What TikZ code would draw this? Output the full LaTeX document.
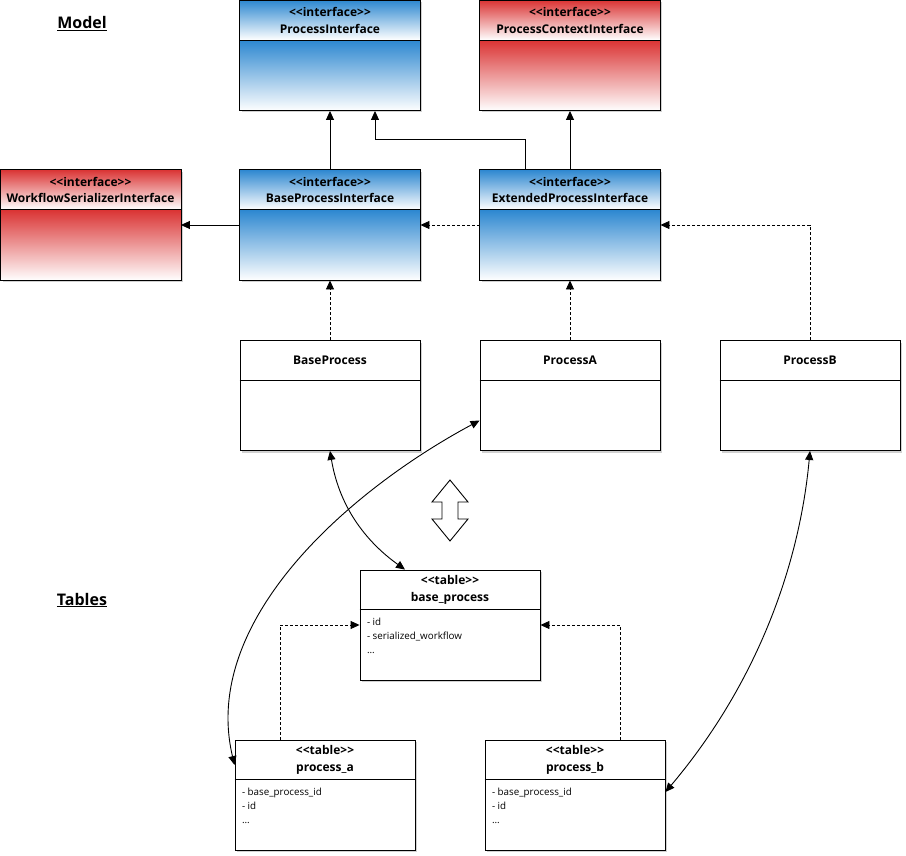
\documentclass[tikz,border=0pt]{standalone}
\usepackage{fontspec}
\setmainfont{Open Sans}
\usepackage{xcolor}
\usetikzlibrary{calc,arrows.meta,positioning,shadows}
\definecolor{umlblue}{HTML}{2C87D0}
\definecolor{umlred}{HTML}{DA3333}
% shade header and body of a class box, then redraw its frame and divider
\newcommand{\umlshade}[2]{%
  \shade[top color=#2, bottom color=white] (#1.north west) rectangle ($(#1.north east)+(0,40)$);
  \shade[top color=#2, bottom color=white] ($(#1.north west)+(0,40)$) rectangle (#1.south east);
  \draw (#1.north west) rectangle (#1.south east);
  \draw ($(#1.north west)+(0,40)$) -- ($(#1.north east)+(0,40)$);
}
\newcommand{\umlsplit}[1]{\draw ($(#1.north west)+(0,40)$) -- ($(#1.north east)+(0,40)$);}

\begin{document}
\begin{tikzpicture}[x=1pt, y=-1pt, line width=0.9pt,
  cls/.style={draw, fill=white, minimum width=180pt, minimum height=110pt, inner sep=0pt,
    drop shadow={shadow xshift=2pt, shadow yshift=-2pt, fill=black!40, opacity=0.45}},
  hdr/.style={font=\bfseries\fontsize{12}{16.5}\selectfont, align=center, inner sep=0pt},
  attr/.style={font=\fontsize{9.8}{14}\selectfont, align=left, inner sep=0pt, anchor=north west},
  lbl/.style={font=\bfseries\fontsize{16}{18}\selectfont, inner sep=0pt},
  arr/.style={-{Triangle[length=9pt,width=8pt]}},
  dep/.style={arr, dash pattern=on 3pt off 2pt},
  both/.style={{Triangle[length=9pt,width=8pt]}-{Triangle[length=9pt,width=8pt]}}
]
  \useasboundingbox (0,0) rectangle (906,856);

  \node[lbl] (model) at (82,24) {\underline{Model}};
  \node[lbl] (tables) at (82,600) {\underline{Tables}};

  % Model
  \node[cls] (pi) at (330,55.5) {};  \umlshade{pi}{umlblue}
  \node[cls] (pci) at (570,55.5) {}; \umlshade{pci}{umlred}
  \node[cls] (wsi) at (90.5,225) {}; \umlshade{wsi}{umlred}
  \node[cls] (bpi) at (330,225) {};  \umlshade{bpi}{umlblue}
  \node[cls] (epi) at (570,225) {};  \umlshade{epi}{umlblue}
  \node[cls] (bp) at (330,395.5) {}; \umlsplit{bp}
  \node[cls] (pa) at (570,395.5) {}; \umlsplit{pa}
  \node[cls] (pb) at (810,395.5) {}; \umlsplit{pb}

  \node[hdr] (pi-t) at ($(pi.north)+(0,20.5)$) {<{}<interface>{}>\\ProcessInterface};
  \node[hdr] (pci-t) at ($(pci.north)+(0,20.5)$) {<{}<interface>{}>\\ProcessContextInterface};
  \node[hdr] (wsi-t) at ($(wsi.north)+(0,20.5)$) {<{}<interface>{}>\\WorkflowSerializerInterface};
  \node[hdr] (bpi-t) at ($(bpi.north)+(0,20.5)$) {<{}<interface>{}>\\BaseProcessInterface};
  \node[hdr] (epi-t) at ($(epi.north)+(0,20.5)$) {<{}<interface>{}>\\ExtendedProcessInterface};
  \node[hdr] (bp-t) at ($(bp.north)+(0,20.5)$) {BaseProcess};
  \node[hdr] (pa-t) at ($(pa.north)+(0,20.5)$) {ProcessA};
  \node[hdr] (pb-t) at ($(pb.north)+(0,20.5)$) {ProcessB};

  % Tables
  \node[cls] (bt) at (450,625) {}; \umlsplit{bt}
  \node[cls] (ta) at (325,795) {}; \umlsplit{ta}
  \node[cls] (tb) at (575,795) {}; \umlsplit{tb}

  \node[hdr] (bt-t) at ($(bt.north)+(0,20.5)$) {<{}<table>{}>\\base\_process};
  \node[hdr] (ta-t) at ($(ta.north)+(0,20.5)$) {<{}<table>{}>\\process\_a};
  \node[hdr] (tb-t) at ($(tb.north)+(0,20.5)$) {<{}<table>{}>\\process\_b};
  \node[attr] (bt-a) at ($(bt.north west)+(7,48.5)$) {- id\\- serialized\_workflow\\...};
  \node[attr] (ta-a) at ($(ta.north west)+(7,48)$) {- base\_process\_id\\- id\\...};
  \node[attr] (tb-a) at ($(tb.north west)+(7,48)$) {- base\_process\_id\\- id\\...};

  \draw[arr] (bpi) -- (pi);
  \draw[arr] (epi) -- (pci);
  \draw[arr] ($(epi.north)+(-45,0)$) -- ++(0,-30) -| ($(pi.south)+(45,0)$);
  \draw[arr] (bpi) -- (wsi);
  \draw[dep] (epi) -- (bpi);
  \draw[dep] (bp) -- (bpi);
  \draw[dep] (pa) -- (epi);
  \draw[dep] (pb.north) |- (epi.east);
  \draw[dep] ($(ta.north)+(-45,0)$) |- (bt.west);
  \draw[dep] ($(tb.north)+(45,0)$) |- (bt.east);

  % model <-> table mappings
  \draw[both] (bp.south) .. controls ($(bp.south)+(10,60)$) and ($(bt.north)+(-80,-25)$) .. ($(bt.north)+(-45,0)$);
  \draw[both] ($(pa.west)+(0,25)$) .. controls (350,490) and (200,620) .. ($(ta.west)+(0,-30)$);
  \draw[both] (pb.south) .. controls (800,560) and (760,680) .. ($(tb.east)+(0,-3)$);

  % double arrow between the two layers
  \draw (450,480) -- (468,502) -- (458,502) -- (458,519) -- (468,519) -- (450,541)
    -- (432,519) -- (442,519) -- (442,502) -- (432,502) -- cycle;
\end{tikzpicture}
\end{document}
